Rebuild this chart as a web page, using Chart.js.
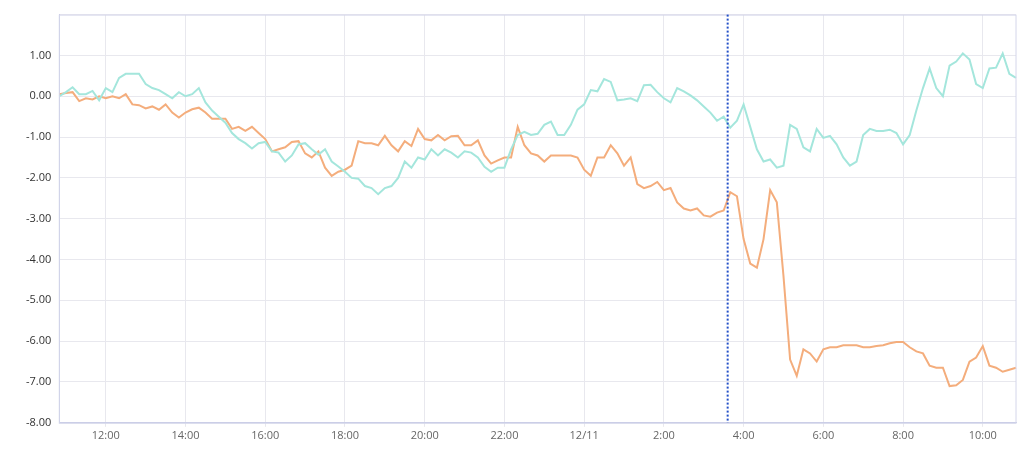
<!DOCTYPE html>
<html><head><meta charset="utf-8">
<script src="https://cdn.jsdelivr.net/npm/chart.js@4/dist/chart.umd.min.js"></script>
<style>html,body{margin:0;background:#fff}#wrap{width:1024px;height:450px}</style>
</head><body><div id="wrap"><canvas id="c"></canvas></div>
<script>
// 10-minute samples starting 10:50
var startMin=10*60+50, stepMin=10;
var markerIndex=100.6; // 3:36
var tealVals=[0.0,0.1,0.22,0.05,0.05,0.13,-0.1,0.2,0.1,0.45,0.55,0.55,0.55,0.3,0.2,0.15,0.05,-0.05,0.1,0.0,
0.05,0.2,-0.15,-0.35,-0.5,-0.65,-0.9,-1.05,-1.15,-1.28,-1.15,-1.12,-1.35,-1.38,-1.6,-1.45,-1.18,-1.15,
-1.3,-1.43,-1.3,-1.6,-1.72,-1.85,-2.0,-2.02,-2.2,-2.25,-2.4,-2.25,-2.2,-2.0,-1.6,-1.75,-1.5,-1.55,-1.3,-1.45,-1.3,-1.38,
-1.5,-1.35,-1.38,-1.5,-1.73,-1.85,-1.75,-1.75,-1.3,-0.95,-0.87,-0.95,-0.92,-0.7,-0.62,-0.95,
-0.95,-0.7,-0.33,-0.2,0.15,0.12,0.42,0.35,-0.1,-0.08,-0.05,-0.12,0.27,0.28,0.1,-0.05,-0.15,0.2,0.12,0.02,-0.1,-0.25,
-0.4,-0.6,-0.5,-0.77,-0.6,-0.2,-0.75,-1.3,-1.6,-1.55,-1.75,-1.7,-0.7,-0.8,-1.25,-1.35,-0.8,-1.02,-0.97,-1.18,
-1.5,-1.7,-1.6,-0.95,-0.8,-0.85,-0.85,-0.82,-0.9,-1.18,-0.95,-0.35,0.2,0.68,0.2,0.0,0.75,0.85,1.05,0.9,0.3,0.2,0.68,0.7,1.05,0.55,0.45];
var orangeVals=[0.05,0.08,0.1,-0.12,-0.05,-0.08,0.0,-0.05,0.0,-0.05,0.05,-0.2,-0.22,-0.3,-0.25,-0.33,-0.2,-0.4,-0.52,-0.4,
-0.32,-0.28,-0.4,-0.55,-0.55,-0.55,-0.8,-0.75,-0.85,-0.75,-0.9,-1.05,-1.35,-1.3,-1.25,-1.12,-1.1,-1.4,
-1.5,-1.35,-1.75,-1.95,-1.85,-1.8,-1.7,-1.1,-1.15,-1.15,-1.2,-0.97,-1.2,-1.35,-1.1,-1.22,-0.8,-1.05,-1.08,-0.95,-1.08,-0.98,
-0.97,-1.2,-1.2,-1.08,-1.45,-1.65,-1.57,-1.5,-1.5,-0.75,-1.2,-1.4,-1.45,-1.6,-1.45,-1.45,
-1.45,-1.45,-1.5,-1.8,-1.95,-1.5,-1.5,-1.2,-1.4,-1.7,-1.5,-2.15,-2.25,-2.2,-2.1,-2.3,-2.25,-2.6,-2.75,-2.8,-2.75,-2.92,
-2.95,-2.85,-2.8,-2.35,-2.45,-3.5,-4.1,-4.2,-3.5,-2.3,-2.6,-4.4,-6.45,-6.85,-6.2,-6.3,-6.5,-6.2,-6.15,-6.15,
-6.1,-6.1,-6.1,-6.15,-6.15,-6.12,-6.1,-6.05,-6.02,-6.02,-6.15,-6.25,-6.3,-6.6,-6.65,-6.65,-7.1,-7.08,-6.95,-6.5,-6.4,-6.12,-6.6,-6.65,-6.75,-6.7,-6.65];
var yMin=-8, yMax=2;

var minutes=[],labels=[];
for(var i=0;i<tealVals.length;i++){
  var m=(startMin+i*stepMin)%1440;
  minutes.push(m);
  var h=Math.floor(m/60),mm=m%60;
  labels.push(m===0?'12/11':h+':'+(mm<10?'0':'')+mm);
}
function keepTick(i){var m=minutes[i];return m%120===0;}

var markerPlugin={id:'marker',afterDatasetsDraw:function(ch){
  var x=ch.scales.x,a=ch.chartArea,ctx=ch.ctx;
  var f=Math.floor(markerIndex);
  var px=x.getPixelForValue(f)+(markerIndex-f)*(x.getPixelForValue(f+1)-x.getPixelForValue(f));
  ctx.save();
  ctx.strokeStyle='#d4d6ea';ctx.lineWidth=1;
  ctx.strokeRect(a.left,a.top+0.5,a.right-a.left,a.bottom-a.top);
  ctx.strokeStyle='#2450c8';ctx.lineWidth=2;ctx.setLineDash([2,2]);
  ctx.beginPath();ctx.moveTo(px,a.top);ctx.lineTo(px,a.bottom);ctx.stroke();ctx.restore();
}};

new Chart(document.getElementById('c'),{
  type:'line',
  data:{labels:labels,datasets:[
    {data:tealVals,borderColor:'#a4e6dc',borderWidth:2,pointRadius:0,tension:0},
    {data:orangeVals,borderColor:'#f4ad7c',borderWidth:2,pointRadius:0,tension:0}
  ]},
  options:{responsive:true,maintainAspectRatio:false,animation:false,
    layout:{padding:{top:12,right:8,left:18,bottom:6}},
    plugins:{legend:{display:false},tooltip:{enabled:false}},
    scales:{
      x:{offset:false,
        afterBuildTicks:function(s){s.ticks=s.ticks.filter(function(t){return keepTick(t.value);});},
        ticks:{autoSkip:false,maxRotation:0,color:'#666',padding:2,font:{family:'Open Sans',size:11},
          callback:function(v){return labels[v];}},
        grid:{color:'#e8e8ee',drawTicks:true,tickLength:4},
        border:{color:'#c9cce6'}},
      y:{min:yMin,max:yMax,
        ticks:{stepSize:1,color:'#333',padding:8,font:{family:'Open Sans',size:11},
          callback:function(v){return v===yMax?'':v.toFixed(2);}},
        grid:{color:'#e8e8ee',drawTicks:false},
        border:{color:'#c9cce6'}}
    }}
  ,plugins:[markerPlugin]
});
</script></body></html>
